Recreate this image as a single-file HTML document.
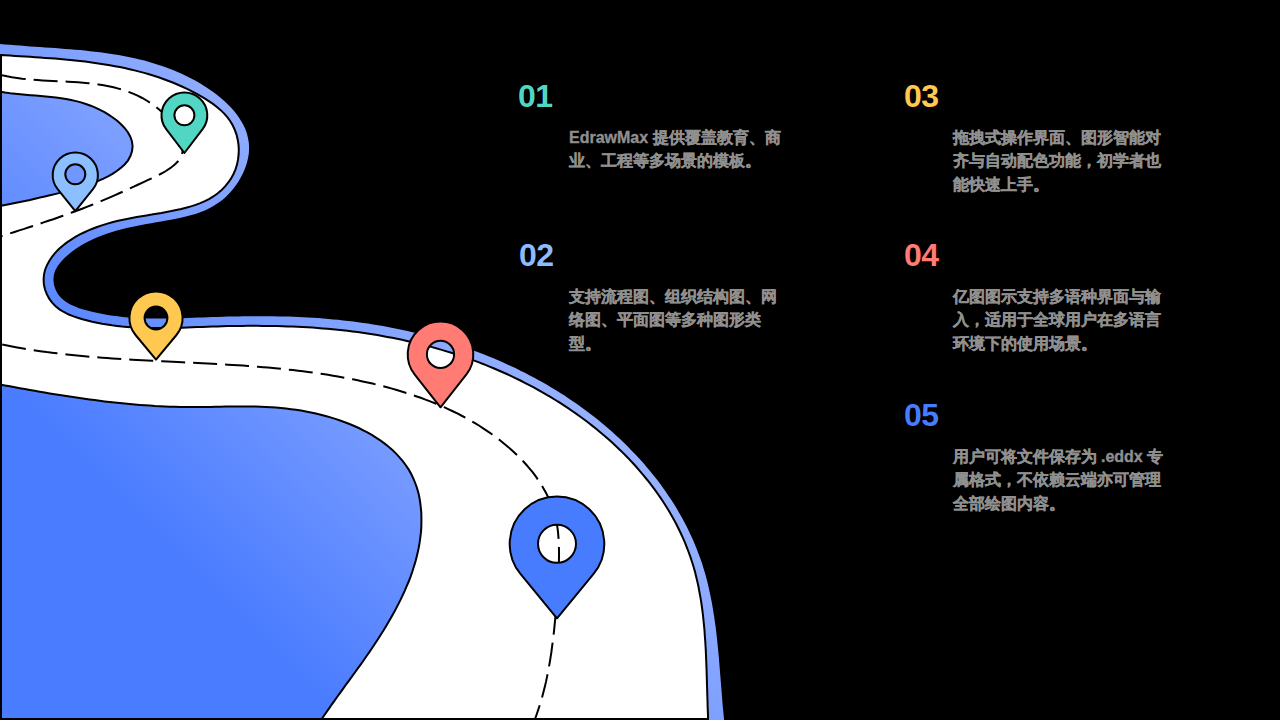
<!DOCTYPE html>
<html><head><meta charset="utf-8"><style>
html,body{margin:0;padding:0;background:#000;}
body{width:1280px;height:720px;position:relative;overflow:hidden;font-family:"Liberation Sans",sans-serif;}
svg{position:absolute;left:0;top:0;}
.num{position:absolute;font-size:32px;font-weight:bold;line-height:1;margin-top:-4.3px;letter-spacing:-0.5px;}
.txt{position:absolute;width:216px;font-size:16px;line-height:23.3px;font-weight:bold;color:#8f8f8f;-webkit-text-stroke:0.35px #8f8f8f;}
</style></head><body>
<svg width="1280" height="720" viewBox="0 0 1280 720">
<defs><linearGradient id="g" gradientUnits="userSpaceOnUse" x1="0" y1="380" x2="331.5" y2="48.5"><stop offset="0" stop-color="#4a7cff"/><stop offset="1" stop-color="#a5bbff"/></linearGradient></defs>
<path d="M-3,43.8 L0.0,43.9 L5.0,44.4 L10.0,44.8 L15.0,45.2 L20.0,45.6 L25.0,46.0 L30.0,46.4 L35.0,46.7 L40.0,47.1 L45.0,47.4 L50.0,47.8 L55.0,48.1 L60.1,48.5 L65.1,48.9 L70.1,49.3 L75.1,49.7 L80.1,50.1 L85.0,50.6 L90.0,51.2 L95.0,51.7 L100.0,52.3 L105.0,53.0 L109.9,53.7 L114.9,54.5 L119.9,55.3 L124.8,56.2 L129.7,57.2 L134.6,58.3 L139.5,59.4 L144.4,60.6 L149.2,62.0 L154.0,63.4 L158.8,64.9 L163.6,66.5 L168.3,68.2 L172.9,70.0 L177.6,72.0 L182.2,74.0 L186.7,76.2 L191.2,78.4 L195.6,80.8 L199.9,83.3 L204.2,85.9 L208.4,88.7 L212.5,91.5 L216.6,94.5 L220.5,97.7 L224.3,100.9 L227.9,104.4 L231.4,108.0 L234.7,111.8 L237.7,115.8 L240.5,119.9 L243.0,124.3 L245.2,128.8 L246.9,133.5 L248.1,138.4 L248.9,143.4 L249.1,148.4 L248.8,153.4 L248.0,158.3 L246.8,163.2 L245.2,167.9 L243.3,172.6 L241.0,177.1 L238.5,181.4 L235.7,185.6 L232.7,189.6 L229.4,193.3 L225.8,196.9 L222.0,200.2 L218.0,203.1 L213.8,205.8 L209.4,208.2 L204.8,210.4 L200.2,212.2 L195.4,213.9 L190.6,215.3 L185.8,216.6 L180.9,217.8 L176.0,218.8 L171.0,219.7 L166.1,220.6 L161.2,221.5 L156.2,222.3 L151.3,223.2 L146.3,224.1 L141.4,225.0 L136.5,225.9 L131.6,226.9 L126.7,228.0 L121.8,229.2 L116.9,230.5 L112.1,231.9 L107.4,233.5 L102.6,235.2 L98.0,237.0 L93.4,239.0 L88.8,241.2 L84.4,243.5 L80.1,246.1 L75.9,248.8 L71.8,251.8 L67.9,254.9 L64.2,258.3 L60.8,261.9 L57.7,265.9 L55.3,270.3 L53.8,275.1 L53.4,280.1 L54.0,285.1 L55.6,289.8 L58.0,294.2 L61.2,298.0 L65.1,301.2 L69.3,303.9 L73.9,306.1 L78.5,307.9 L83.3,309.4 L88.2,310.7 L93.0,311.9 L97.9,313.0 L102.8,314.0 L107.8,314.9 L112.7,315.7 L117.7,316.3 L122.7,316.9 L127.7,317.4 L132.7,317.8 L137.7,318.1 L142.7,318.3 L147.7,318.5 L152.7,318.6 L157.8,318.6 L162.8,318.6 L167.8,318.6 L172.8,318.5 L177.8,318.3 L182.8,318.2 L187.9,318.0 L192.9,317.8 L197.9,317.6 L202.9,317.4 L207.9,317.3 L212.9,317.1 L217.9,316.9 L223.0,316.8 L228.0,316.6 L233.0,316.5 L238.0,316.4 L243.0,316.3 L248.0,316.3 L253.1,316.2 L258.1,316.2 L263.1,316.2 L268.1,316.2 L273.1,316.3 L278.1,316.4 L283.2,316.5 L288.2,316.6 L293.2,316.8 L298.2,317.0 L303.2,317.2 L308.2,317.5 L313.2,317.8 L318.2,318.1 L323.2,318.5 L328.2,318.9 L333.2,319.4 L338.2,319.8 L343.2,320.4 L348.2,320.9 L353.2,321.5 L358.2,322.2 L363.1,322.9 L368.1,323.6 L373.1,324.4 L378.0,325.2 L383.0,326.1 L387.9,327.0 L392.8,327.9 L397.7,328.9 L402.6,329.9 L407.5,331.0 L412.4,332.2 L417.3,333.3 L422.2,334.6 L427.0,335.8 L431.9,337.1 L436.7,338.5 L441.5,339.9 L446.3,341.3 L451.1,342.8 L455.9,344.4 L460.7,345.9 L465.4,347.6 L470.1,349.2 L474.8,351.0 L479.5,352.7 L484.2,354.6 L488.9,356.4 L493.5,358.3 L498.1,360.3 L502.7,362.3 L507.3,364.4 L511.9,366.5 L516.4,368.6 L520.9,370.9 L525.4,373.1 L529.8,375.4 L534.3,377.8 L538.7,380.2 L543.0,382.6 L547.4,385.1 L551.7,387.7 L556.0,390.3 L560.3,392.9 L564.5,395.6 L568.7,398.4 L572.8,401.2 L577.0,404.1 L581.0,407.0 L585.1,409.9 L589.1,412.9 L593.1,416.0 L597.0,419.1 L600.9,422.3 L604.8,425.5 L608.6,428.7 L612.4,432.1 L616.1,435.4 L619.8,438.8 L623.4,442.3 L627.0,445.8 L630.5,449.4 L634.0,453.0 L637.4,456.6 L640.8,460.3 L644.2,464.1 L647.4,467.9 L650.6,471.8 L653.8,475.7 L656.9,479.6 L659.9,483.6 L662.9,487.7 L665.8,491.7 L668.6,495.9 L671.4,500.1 L674.1,504.3 L676.7,508.6 L679.2,512.9 L681.7,517.3 L684.1,521.7 L686.4,526.1 L688.6,530.6 L690.8,535.2 L692.9,539.7 L694.8,544.3 L696.7,549.0 L698.5,553.7 L700.3,558.4 L701.9,563.1 L703.4,567.9 L704.9,572.7 L706.2,577.6 L707.5,582.4 L708.6,587.3 L709.7,592.2 L710.7,597.1 L711.7,602.0 L712.6,607.0 L713.4,611.9 L714.2,616.9 L714.9,621.8 L715.6,626.8 L716.2,631.8 L716.8,636.8 L717.3,641.8 L717.8,646.8 L718.3,651.7 L718.8,656.7 L719.2,661.7 L719.6,666.7 L720.0,671.7 L720.4,676.7 L720.8,681.8 L721.2,686.8 L721.6,691.8 L722.0,696.8 L722.4,701.8 L722.8,706.8 L723.3,711.8 L723.8,716.7 L724.3,721.7 L724,722 L-3,722 Z" fill="url(#g)"/>
<path d="M1,55 L5.0,55.2 L10.0,55.6 L15.1,55.9 L20.1,56.2 L25.1,56.5 L30.1,56.8 L35.1,57.2 L40.1,57.5 L45.1,57.9 L50.1,58.2 L55.1,58.6 L60.1,59.1 L65.1,59.5 L70.1,60.0 L75.1,60.5 L80.1,61.0 L85.1,61.6 L90.1,62.3 L95.0,62.9 L100.0,63.7 L105.0,64.4 L109.9,65.3 L114.9,66.2 L119.8,67.1 L124.7,68.1 L129.6,69.2 L134.5,70.4 L139.3,71.6 L144.2,72.9 L149.0,74.3 L153.8,75.8 L158.6,77.3 L163.3,79.0 L168.0,80.7 L172.7,82.5 L177.3,84.5 L181.9,86.5 L186.5,88.6 L191.0,90.8 L195.4,93.2 L199.8,95.6 L204.2,98.1 L208.4,100.8 L212.6,103.6 L216.6,106.7 L220.4,109.9 L224.0,113.4 L227.3,117.2 L230.3,121.2 L232.8,125.5 L234.9,130.1 L236.6,134.8 L237.7,139.7 L238.5,144.7 L238.8,149.7 L238.6,154.7 L238.0,159.7 L237.0,164.6 L235.5,169.4 L233.5,174.0 L231.1,178.4 L228.3,182.5 L225.1,186.4 L221.6,190.0 L217.8,193.3 L213.7,196.2 L209.4,198.8 L204.9,201.1 L200.3,203.1 L195.6,204.9 L190.9,206.4 L186.0,207.8 L181.2,209.0 L176.3,210.1 L171.4,211.1 L166.4,212.0 L161.5,212.9 L156.5,213.7 L151.6,214.6 L146.6,215.4 L141.7,216.2 L136.7,217.0 L131.8,217.9 L126.9,218.9 L121.9,219.9 L117.0,221.0 L112.2,222.3 L107.4,223.6 L102.6,225.1 L97.8,226.7 L93.1,228.5 L88.5,230.4 L83.9,232.5 L79.4,234.7 L75.0,237.2 L70.8,239.8 L66.6,242.6 L62.7,245.7 L58.9,249.1 L55.4,252.6 L52.2,256.5 L49.4,260.7 L47.0,265.1 L45.1,269.7 L44.0,274.6 L43.6,279.6 L43.9,284.6 L45.0,289.5 L46.8,294.2 L49.2,298.6 L52.1,302.6 L55.6,306.3 L59.5,309.4 L63.8,312.0 L68.3,314.3 L72.9,316.1 L77.7,317.8 L82.5,319.2 L87.4,320.5 L92.2,321.7 L97.1,322.7 L102.1,323.7 L107.0,324.5 L112.0,325.3 L117.0,325.9 L122.0,326.5 L126.9,326.9 L132.0,327.3 L137.0,327.6 L142.0,327.8 L147.0,328.0 L152.0,328.1 L157.0,328.1 L162.1,328.1 L167.1,328.0 L172.1,327.9 L177.1,327.8 L182.1,327.7 L187.1,327.5 L192.2,327.3 L197.2,327.1 L202.2,326.9 L207.2,326.7 L212.2,326.6 L217.2,326.4 L222.3,326.3 L227.3,326.1 L232.3,326.0 L237.3,326.0 L242.3,325.9 L247.3,325.8 L252.4,325.8 L257.4,325.8 L262.4,325.9 L267.4,325.9 L272.4,326.0 L277.5,326.1 L282.5,326.2 L287.5,326.4 L292.5,326.6 L297.5,326.8 L302.5,327.0 L307.6,327.3 L312.6,327.6 L317.6,328.0 L322.6,328.4 L327.6,328.8 L332.6,329.2 L337.6,329.7 L342.6,330.3 L347.5,330.8 L352.5,331.4 L357.5,332.1 L362.5,332.8 L367.4,333.5 L372.4,334.3 L377.4,335.1 L382.3,336.0 L387.2,336.9 L392.2,337.8 L397.1,338.8 L402.0,339.8 L406.9,340.9 L411.8,342.0 L416.7,343.2 L421.6,344.4 L426.4,345.6 L431.3,346.9 L436.1,348.2 L440.9,349.6 L445.7,351.1 L450.5,352.5 L455.3,354.1 L460.1,355.6 L464.8,357.3 L469.6,358.9 L474.3,360.6 L479.0,362.4 L483.7,364.2 L488.3,366.1 L493.0,368.0 L497.6,370.0 L502.2,372.0 L506.8,374.0 L511.3,376.1 L515.9,378.3 L520.4,380.5 L524.8,382.8 L529.3,385.1 L533.7,387.4 L538.1,389.9 L542.5,392.3 L546.8,394.8 L551.2,397.4 L555.4,400.0 L559.7,402.7 L563.9,405.4 L568.1,408.2 L572.2,411.0 L576.4,413.9 L580.4,416.8 L584.5,419.8 L588.5,422.8 L592.4,425.9 L596.4,429.0 L600.2,432.2 L604.1,435.5 L607.9,438.8 L611.6,442.1 L615.3,445.5 L618.9,448.9 L622.5,452.4 L626.1,456.0 L629.6,459.6 L633.0,463.3 L636.4,467.0 L639.7,470.8 L642.9,474.6 L646.1,478.5 L649.3,482.4 L652.3,486.4 L655.3,490.4 L658.2,494.5 L661.1,498.6 L663.8,502.8 L666.5,507.0 L669.1,511.3 L671.7,515.7 L674.1,520.1 L676.5,524.5 L678.7,529.0 L680.9,533.5 L683.0,538.1 L685.0,542.7 L686.8,547.3 L688.6,552.0 L690.3,556.7 L691.9,561.5 L693.4,566.3 L694.8,571.1 L696.0,576.0 L697.2,580.9 L698.3,585.8 L699.2,590.7 L700.1,595.6 L701.0,600.6 L701.7,605.5 L702.4,610.5 L703.0,615.5 L703.5,620.5 L704.0,625.5 L704.5,630.5 L704.8,635.5 L705.2,640.5 L705.5,645.5 L705.8,650.5 L706.0,655.5 L706.2,660.5 L706.4,665.6 L706.6,670.6 L706.7,675.6 L706.9,680.6 L707.0,685.6 L707.2,690.6 L707.3,695.7 L707.5,700.7 L707.6,705.7 L707.8,710.7 L708.0,715.7 L708,719 L1,719 Z" fill="#fff" stroke="#000" stroke-width="2"/>
<path d="M-3,91.8 L0.1,91.7 L5.1,92.6 L10.2,93.3 L15.2,93.8 L20.3,94.3 L25.4,94.8 L30.5,95.2 L35.6,95.6 L40.7,96.0 L45.8,96.4 L50.9,96.9 L55.9,97.5 L61.0,98.2 L66.1,99.0 L71.1,100.0 L76.1,101.1 L81.0,102.4 L85.9,104.0 L90.7,105.7 L95.4,107.7 L100.0,109.8 L104.5,112.2 L108.9,114.9 L113.1,117.7 L117.2,120.8 L121.0,124.2 L124.5,127.9 L127.7,132.0 L130.2,136.4 L131.9,141.2 L132.6,146.2 L132.0,151.3 L130.4,156.1 L127.9,160.6 L124.6,164.5 L120.8,167.9 L116.8,171.0 L112.5,173.8 L108.0,176.3 L103.5,178.6 L98.8,180.7 L94.1,182.7 L89.3,184.5 L84.5,186.1 L79.6,187.7 L74.7,189.1 L69.8,190.4 L64.8,191.7 L59.9,192.9 L54.9,194.1 L49.9,195.3 L44.9,196.5 L40.0,197.6 L35.0,198.7 L30.0,199.9 L25.0,200.9 L20.0,202.0 L15.0,203.0 L10.0,204.1 L5.0,205.1 L-0.0,206.0 L-3,206.2 Z" fill="url(#g)" stroke="#000" stroke-width="2"/>
<path d="M-3,384 L-0.0,384.5 L4.9,385.4 L9.9,386.3 L14.9,387.3 L19.8,388.2 L24.8,389.1 L29.8,390.0 L34.7,390.8 L39.7,391.7 L44.7,392.6 L49.7,393.4 L54.6,394.2 L59.6,395.0 L64.6,395.8 L69.6,396.6 L74.6,397.3 L79.6,398.1 L84.6,398.8 L89.6,399.5 L94.6,400.1 L99.6,400.8 L104.6,401.4 L109.6,402.0 L114.6,402.5 L119.6,403.1 L124.7,403.6 L129.7,404.0 L134.7,404.5 L139.7,404.9 L144.8,405.3 L149.8,405.6 L154.8,406.0 L159.9,406.2 L164.9,406.5 L170.0,406.7 L175.0,406.8 L180.1,407.0 L185.1,407.0 L190.2,407.1 L195.2,407.1 L200.3,407.0 L205.3,407.0 L210.3,406.9 L215.4,406.8 L220.4,406.7 L225.5,406.6 L230.5,406.6 L235.6,406.5 L240.6,406.5 L245.7,406.5 L250.7,406.5 L255.8,406.6 L260.8,406.8 L265.9,407.0 L270.9,407.3 L275.9,407.6 L281.0,408.0 L286.0,408.6 L291.0,409.2 L296.0,409.8 L301.0,410.6 L305.9,411.5 L310.9,412.5 L315.8,413.6 L320.7,414.7 L325.6,416.0 L330.5,417.4 L335.3,418.9 L340.1,420.5 L344.8,422.2 L349.5,424.0 L354.2,426.0 L358.8,428.0 L363.3,430.3 L367.8,432.6 L372.2,435.1 L376.4,437.8 L380.6,440.6 L384.7,443.6 L388.6,446.7 L392.4,450.1 L396.1,453.6 L399.5,457.3 L402.8,461.1 L405.8,465.2 L408.6,469.4 L411.1,473.8 L413.3,478.3 L415.2,483.0 L416.9,487.7 L418.3,492.6 L419.4,497.5 L420.2,502.5 L420.8,507.5 L421.3,512.5 L421.4,517.6 L421.4,522.6 L421.3,527.6 L420.9,532.7 L420.3,537.7 L419.6,542.7 L418.7,547.7 L417.7,552.6 L416.5,557.5 L415.2,562.4 L413.7,567.2 L412.2,572.0 L410.5,576.8 L408.7,581.5 L406.7,586.1 L404.7,590.8 L402.6,595.4 L400.5,599.9 L398.2,604.4 L395.9,608.9 L393.5,613.3 L391.0,617.8 L388.5,622.1 L385.9,626.5 L383.3,630.8 L380.6,635.0 L377.9,639.3 L375.1,643.5 L372.3,647.7 L369.5,651.9 L366.6,656.0 L363.7,660.2 L360.8,664.3 L357.8,668.4 L354.9,672.5 L351.9,676.6 L349.0,680.7 L346.0,684.7 L343.0,688.8 L340.1,692.9 L337.1,697.0 L334.2,701.1 L331.3,705.2 L328.4,709.4 L325.5,713.5 L322.6,717.7 L319.8,721.9 L321,719 L-3,719 Z" fill="url(#g)" stroke="#000" stroke-width="2"/>
<rect x="0" y="54" width="2" height="666" fill="#000"/>
<path d="M2.0,75.2 L7.0,76.3 L12.0,77.2 L17.1,78.0 L22.1,78.7 L27.2,79.2 L32.3,79.7 L37.4,80.1 L42.5,80.4 L47.6,80.7 L52.7,81.0 L57.8,81.2 L62.9,81.5 L68.0,81.7 L73.1,82.0 L78.2,82.3 L83.3,82.7 L88.4,83.2 L93.4,83.8 L98.5,84.4 L103.6,85.2 L108.6,86.2 L113.6,87.3 L118.5,88.6 L123.4,90.0 L128.2,91.7 L133.0,93.6 L137.6,95.7 L142.2,98.0 L146.6,100.5 L150.9,103.3 L155.1,106.2 L159.1,109.4 L162.9,112.8 L166.6,116.3 L170.0,120.1 L173.2,124.1 L176.1,128.3 L178.6,132.8 L180.6,137.5 L182.1,142.3 L182.8,147.4 L182.4,152.5 L180.7,157.3 L177.8,161.5 L174.2,165.1 L170.2,168.2 L165.9,171.0 L161.4,173.5 L156.9,175.8 L152.3,178.0 L147.7,180.2 L143.0,182.4 L138.4,184.5 L133.8,186.7 L129.1,188.8 L124.5,190.9 L119.8,193.0 L115.1,195.1 L110.5,197.1 L105.8,199.1 L101.0,201.1 L96.3,203.1 L91.6,205.0 L86.8,206.9 L82.1,208.7 L77.3,210.5 L72.5,212.3 L67.7,214.1 L62.9,215.8 L58.1,217.5 L53.3,219.2 L48.4,220.8 L43.6,222.4 L38.7,224.1 L33.9,225.7 L29.0,227.3 L24.2,228.9 L19.3,230.4 L14.5,232.0 L9.6,233.6 L4.8,235.2 L-0.1,236.8 L-5.0,238.4" fill="none" stroke="#000" stroke-width="2" stroke-dasharray="24 8"/>
<path d="M2.2,344.6 L7.2,345.6 L12.1,346.5 L17.1,347.4 L22.0,348.3 L27.0,349.1 L32.0,349.9 L37.0,350.7 L42.0,351.4 L46.9,352.1 L51.9,352.7 L56.9,353.3 L61.9,353.9 L66.9,354.5 L72.0,355.0 L77.0,355.5 L82.0,356.0 L87.0,356.5 L92.0,356.9 L97.0,357.3 L102.1,357.7 L107.1,358.1 L112.1,358.5 L117.1,358.8 L122.2,359.1 L127.2,359.4 L132.2,359.7 L137.2,360.0 L142.3,360.3 L147.3,360.6 L152.3,360.8 L157.4,361.1 L162.4,361.3 L167.4,361.6 L172.5,361.8 L177.5,362.1 L182.5,362.3 L187.6,362.6 L192.6,362.8 L197.6,363.0 L202.6,363.3 L207.7,363.6 L212.7,363.8 L217.7,364.1 L222.8,364.4 L227.8,364.7 L232.8,365.0 L237.9,365.3 L242.9,365.6 L247.9,366.0 L252.9,366.4 L257.9,366.8 L263.0,367.2 L268.0,367.6 L273.0,368.1 L278.0,368.5 L283.0,369.0 L288.0,369.6 L293.0,370.1 L298.1,370.7 L303.1,371.3 L308.0,371.9 L313.0,372.6 L318.0,373.3 L323.0,374.1 L328.0,374.8 L333.0,375.7 L337.9,376.5 L342.9,377.4 L347.8,378.3 L352.8,379.3 L357.7,380.3 L362.6,381.4 L367.6,382.5 L372.5,383.6 L377.4,384.8 L382.2,386.0 L387.1,387.3 L392.0,388.6 L396.8,390.0 L401.6,391.5 L406.4,393.0 L411.2,394.5 L416.0,396.2 L420.7,397.8 L425.5,399.6 L430.2,401.4 L434.9,403.3 L439.5,405.2 L444.1,407.2 L448.7,409.3 L453.3,411.5 L457.8,413.7 L462.2,416.0 L466.7,418.4 L471.1,420.9 L475.4,423.4 L479.7,426.0 L483.9,428.8 L488.1,431.6 L492.3,434.5 L496.3,437.4 L500.3,440.5 L504.2,443.7 L508.1,446.9 L511.9,450.2 L515.6,453.7 L519.2,457.2 L522.7,460.8 L526.1,464.5 L529.4,468.3 L532.6,472.2 L535.6,476.2 L538.5,480.4 L541.2,484.6 L543.8,488.9 L546.2,493.3 L548.5,497.8 L550.5,502.5 L552.3,507.2 L553.9,511.9 L555.3,516.8 L556.4,521.7 L557.3,526.6 L558.0,531.6 L558.4,536.6 L558.8,541.7 L558.9,546.7 L559.0,551.7 L559.0,556.8 L558.9,561.8 L558.8,566.9 L558.6,571.9 L558.4,576.9 L558.1,582.0 L557.8,587.0 L557.5,592.0 L557.1,597.0 L556.7,602.0 L556.3,607.1 L555.9,612.1 L555.4,617.1 L554.9,622.1 L554.4,627.1 L553.9,632.1 L553.3,637.1 L552.7,642.1 L552.0,647.1 L551.4,652.1 L550.6,657.1 L549.8,662.1 L548.9,667.0 L548.0,672.0 L547.0,676.9 L546.0,681.9 L544.8,686.8 L543.6,691.6 L542.3,696.5 L540.9,701.4 L539.4,706.2 L537.8,711.0 L536.2,715.7 L534.5,720.5 L532.7,725.2" fill="none" stroke="#000" stroke-width="2" stroke-dasharray="24 8"/>
<path d="M184.40,153.00 L202.59,129.21 A22.90,22.90 0 1 0 166.21,129.21 Z M194.40,115.30 A10.00,10.00 0 1 0 174.40,115.30 A10.00,10.00 0 1 0 194.40,115.30 Z" fill="#52d6c4" fill-rule="evenodd" stroke="#000" stroke-width="2" stroke-linejoin="round"/>
<path d="M75.30,211.20 L92.95,189.11 A22.60,22.60 0 1 0 57.65,189.11 Z M85.30,174.30 A10.00,10.00 0 1 0 65.30,174.30 A10.00,10.00 0 1 0 85.30,174.30 Z" fill="#8cbfff" fill-rule="evenodd" stroke="#000" stroke-width="2" stroke-linejoin="round"/>
<path d="M156.00,359.60 L176.45,335.01 A26.60,26.60 0 1 0 135.55,335.01 Z M167.40,318.00 A11.40,11.40 0 1 0 144.60,318.00 A11.40,11.40 0 1 0 167.40,318.00 Z" fill="#ffc850" fill-rule="evenodd" stroke="#000" stroke-width="2" stroke-linejoin="round"/>
<path d="M440.50,407.30 L466.23,374.74 A32.80,32.80 0 1 0 414.77,374.74 Z M454.10,354.40 A13.60,13.60 0 1 0 426.90,354.40 A13.60,13.60 0 1 0 454.10,354.40 Z" fill="#ff7b73" fill-rule="evenodd" stroke="#000" stroke-width="2" stroke-linejoin="round"/>
<path d="M557.00,618.30 L593.54,573.83 A47.30,47.30 0 1 0 520.46,573.83 Z M576.00,543.80 A19.00,19.00 0 1 0 538.00,543.80 A19.00,19.00 0 1 0 576.00,543.80 Z" fill="#477cff" fill-rule="evenodd" stroke="#000" stroke-width="2" stroke-linejoin="round"/>
</svg>
<div class="num" style="left:518px;top:84px;color:#52d6c4">01</div>
<div class="txt" style="left:569px;top:126px">EdrawMax 提供覆盖教育、商业、工程等多场景的模板。</div>
<div class="num" style="left:519px;top:243px;color:#8cbcff">02</div>
<div class="txt" style="left:569px;top:285px">支持流程图、组织结构图、网络图、平面图等多种图形类型。</div>
<div class="num" style="left:904px;top:84px;color:#ffc850">03</div>
<div class="txt" style="left:952.5px;top:126px">拖拽式操作界面、图形智能对齐与自动配色功能，初学者也能快速上手。</div>
<div class="num" style="left:904px;top:243px;color:#ff7b73">04</div>
<div class="txt" style="left:952.5px;top:285px">亿图图示支持多语种界面与输入，适用于全球用户在多语言环境下的使用场景。</div>
<div class="num" style="left:904px;top:403px;color:#477cff">05</div>
<div class="txt" style="left:952.5px;top:445px">用户可将文件保存为 .eddx 专属格式，不依赖云端亦可管理全部绘图内容。</div>
</body></html>
